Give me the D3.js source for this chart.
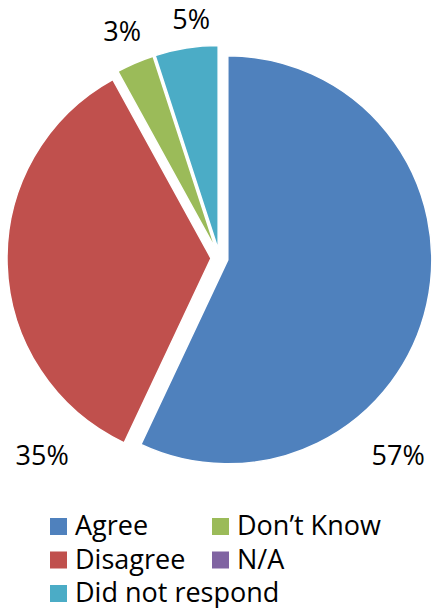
<!DOCTYPE html>
<html>
<head>
<meta charset="utf-8">
<script src="https://cdn.jsdelivr.net/npm/d3@7"></script>
<style>
  body { margin: 0; background: #fff; }
  svg text { font-family: "Open Sans", sans-serif; fill: #000; }
</style>
</head>
<body>
<div id="chart"></div>
<script>
var categories = ['Agree', 'Disagree', "Don\u2019t Know", 'N/A', 'Did not respond'];
var values = [57, 35, 3, 0, 5];
var labels = ['57%', '35%', '3%', '', '5%'];
var colors = ['#4F81BD', '#C0504D', '#9BBB59', '#8064A2', '#4BACC6'];
var legendOrder = ['Agree', "Don\u2019t Know", 'Disagree', 'N/A', 'Did not respond'];

var width = 436, height = 608;
var cx = 219.5, cy = 258, radius = 204, explode = 8.5;
// where the data labels sit (angle in degrees clockwise from 12, distance from centre)
var labelPos = {
  'Agree': [137.8, 266],
  'Disagree': [222, 265],
  "Don\u2019t Know": [336.8, 247],
  'Did not respond': [353.2, 240]
};

var svg = d3.select('#chart')
  .append('svg')
  .attr('width', width)
  .attr('height', height);

var color = d3.scaleOrdinal().domain(categories).range(colors);

var data = categories.map(function(c, i) {
  return { name: c, value: values[i], label: labels[i] };
});

var pie = d3.pie()
  .sort(null)
  .value(function(d) { return d.value; });

var arc = d3.arc()
  .innerRadius(0)
  .outerRadius(radius);

var arcs = pie(data);

var g = svg.append('g')
  .attr('transform', 'translate(' + cx + ',' + cy + ')');

// slices, each pushed out along its middle angle
g.selectAll('path')
  .data(arcs)
  .enter()
  .append('path')
  .attr('d', arc)
  .attr('fill', function(d) { return color(d.data.name); })
  .attr('stroke', '#fff')
  .attr('stroke-width', 1.5)
  .attr('stroke-linejoin', 'round')
  .attr('transform', function(d) {
    var a = (d.startAngle + d.endAngle) / 2;
    return 'translate(' + (Math.sin(a) * explode) + ',' + (-Math.cos(a) * explode) + ')';
  });

// percentage labels
g.selectAll('text.pct')
  .data(arcs.filter(function(d) { return d.data.value > 0; }))
  .enter()
  .append('text')
  .attr('class', 'pct')
  .attr('text-anchor', 'middle')
  .attr('dy', '0.36em')
  .style('font-size', '27px')
  .attr('x', function(d) {
    var p = labelPos[d.data.name];
    return Math.sin(p[0] * Math.PI / 180) * p[1];
  })
  .attr('y', function(d) {
    var p = labelPos[d.data.name];
    return -Math.cos(p[0] * Math.PI / 180) * p[1];
  })
  .text(function(d) { return d.data.label; });

// legend, two columns
var legend = svg.append('g')
  .attr('transform', 'translate(50,518)');

var item = legend.selectAll('g')
  .data(legendOrder)
  .enter()
  .append('g')
  .attr('transform', function(d, i) {
    return 'translate(' + ((i % 2) * 162) + ',' + (Math.floor(i / 2) * 33.5) + ')';
  });

item.append('rect')
  .attr('width', 17)
  .attr('height', 17)
  .attr('fill', function(d) { return color(d); });

item.append('text')
  .attr('x', 25)
  .attr('y', 17)
  .style('font-size', '27px')
  .text(function(d) { return d; });
</script>
</body>
</html>
